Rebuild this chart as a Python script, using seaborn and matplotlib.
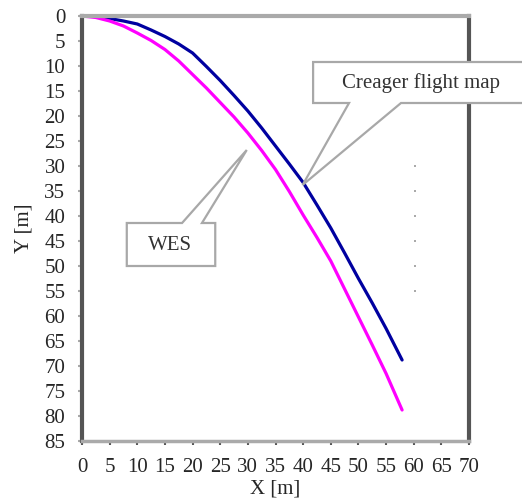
import matplotlib
matplotlib.use("Agg")
import matplotlib.pyplot as plt
from matplotlib.patches import Polygon
import seaborn as sns
import pandas as pd

# Crest profile coordinates (x along the crest, y measured downward), metres
creager_x = [0, 2.5, 5, 7.5, 10, 12.5, 15, 17.5, 20, 22.5, 25, 27.5, 30,
             32.5, 35, 37.5, 40, 42.5, 45, 47.5, 50, 52.5, 55, 57.9]
creager_y = [0, 0.1, 0.5, 1.0, 1.6, 2.8, 4.1, 5.6, 7.4, 10.1, 12.9, 15.9,
             19.0, 22.4, 26.0, 29.6, 33.3, 37.8, 42.4, 47.4, 52.5, 57.4,
             62.5, 68.8]

wes_x = [0, 2.5, 5, 7.5, 10, 12.5, 15, 17.5, 20, 22.5, 25, 27.5, 30,
         32.5, 35, 37.5, 40, 42.5, 45, 47.5, 50, 52.5, 55, 57.9]
wes_y = [0, 0.3, 1.0, 2.0, 3.4, 4.9, 6.7, 9.0, 11.7, 14.4, 17.3, 20.2,
         23.4, 26.9, 30.7, 35.1, 39.8, 44.3, 49.0, 54.6, 60.2, 65.8,
         71.5, 78.8]

x_ticks = list(range(0, 71, 5))
y_ticks = list(range(0, 86, 5))

creager_label = "Creager flight map"
wes_label = "WES"

sns.set_style("white")
plt.rcParams["font.family"] = ["Liberation Serif", "DejaVu Serif"]

fig = plt.figure(figsize=(5.22, 5.01), dpi=100)
ax = fig.add_axes([82 / 522, 1 - 441 / 501, 387 / 522, 425 / 501])

df_c = pd.DataFrame({"x": creager_x, "y": creager_y})
df_w = pd.DataFrame({"x": wes_x, "y": wes_y})
sns.lineplot(data=df_c, x="x", y="y", ax=ax, color="#0000A0", lw=2.3,
             sort=False, estimator=None)
sns.lineplot(data=df_w, x="x", y="y", ax=ax, color="#FF00FF", lw=2.3,
             sort=False, estimator=None)

ax.set_xlim(0, 70)
ax.set_ylim(85, 0)
ax.set_xticks(x_ticks)
ax.set_yticks(y_ticks)
ax.set_xticklabels([str(v) for v in x_ticks], fontsize=15)
ax.set_yticklabels([str(v) for v in y_ticks], fontsize=15)
ax.tick_params(axis="x", direction="out", length=3, width=1.5, color="#555555",
               pad=9, bottom=True)
ax.tick_params(axis="y", direction="out", length=3, width=1.5, color="#aaaaaa",
               pad=9, left=True)
ax.set_xlabel("X [m]", fontsize=15, labelpad=2)
ax.set_ylabel("Y [m]", fontsize=15, labelpad=8)

for side, col, w in [("left", "#555555", 3), ("right", "#555555", 3),
                     ("top", "#aaaaaa", 3), ("bottom", "#aaaaaa", 2.5)]:
    ax.spines[side].set_visible(True)
    ax.spines[side].set_color(col)
    ax.spines[side].set_linewidth(w)

# faint dotted marker column
dot_y = [30, 35, 40, 45, 50, 55]
ax.scatter([60.2] * len(dot_y), dot_y, s=3, marker="s", color="#aaaaaa",
           linewidths=0, zorder=2)

# speech-bubble callouts
creager_bubble = [(41.8, 9.2), (82.0, 9.2), (82.0, 17.4), (57.7, 17.4),
                  (39.9, 33.8), (48.3, 17.4), (41.8, 17.4)]
wes_bubble = [(8.1, 41.4), (18.1, 41.4), (29.8, 26.8), (21.7, 41.4),
              (24.1, 41.4), (24.1, 50.0), (8.1, 50.0)]
for pts in (creager_bubble, wes_bubble):
    ax.add_patch(Polygon(pts, closed=True, facecolor="white",
                         edgecolor="#a8a8a8", lw=1.6, clip_on=False, zorder=5))

ax.text(61.3, 13.4, creager_label, fontsize=15, ha="center", va="center",
        color="#333333", zorder=6, clip_on=False)
ax.text(15.9, 45.8, wes_label, fontsize=15, ha="center", va="center",
        color="#333333", zorder=6)

fig.savefig("out.png", dpi=100)
